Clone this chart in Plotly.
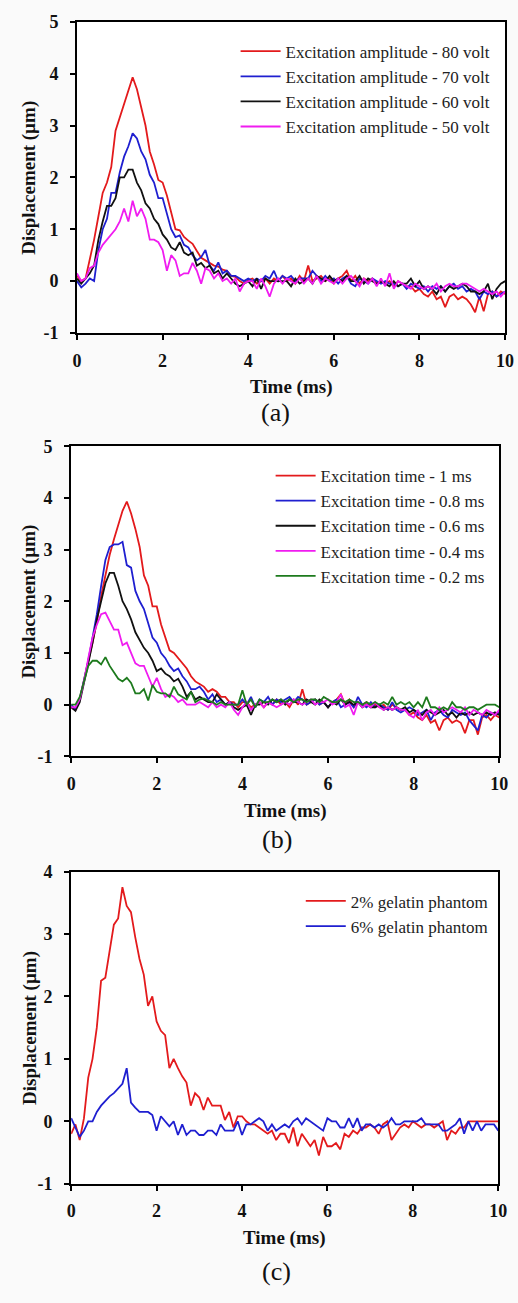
import plotly.graph_objects as go

W, H = 518, 1303
t = [round(0.1 * i, 1) for i in range(101)]

# ---------- panel (a): excitation amplitude ----------
a_names = ["Excitation amplitude - 80 volt", "Excitation amplitude - 70 volt",
           "Excitation amplitude - 60 volt", "Excitation amplitude - 50 volt"]
a_80 = [0.1, 0.0, 0.05, 0.4, 0.8, 1.25, 1.7, 1.9, 2.2, 2.9,
        3.15, 3.4, 3.65, 3.93, 3.7, 3.35, 3.0, 2.5, 2.25, 1.95,
        1.9, 1.65, 1.3, 1.0, 0.98, 0.85, 0.78, 0.72, 0.58, 0.45,
        0.4, 0.35, 0.3, 0.28, 0.22, 0.2, 0.1, 0.08, 0.0, -0.05,
        0.02, 0.05, -0.05, 0.0, 0.05, -0.05, 0.05, 0.0, 0.1, 0.0,
        0.05, -0.05, 0.1, 0.0, 0.3, 0.0, 0.05, 0.1, 0.0, 0.05,
        -0.05, 0.05, 0.1, 0.2, 0.0, 0.1, -0.05, 0.05, 0.0, 0.05,
        -0.05, 0.0, -0.05, 0.0, -0.1, 0.0, -0.05, -0.1, -0.1, -0.2,
        -0.15, -0.25, -0.3, -0.2, -0.35, -0.3, -0.5, -0.3, -0.25, -0.35,
        -0.3, -0.35, -0.45, -0.6, -0.3, -0.58, -0.25, -0.2, -0.3, -0.2, -0.25]
a_70 = [0.0, -0.12, -0.05, 0.05, 0.0, 0.6, 1.0, 1.2, 1.7, 1.7,
        2.1, 2.4, 2.6, 2.85, 2.75, 2.5, 2.35, 2.05, 1.9, 1.6,
        1.6, 1.3, 1.0, 0.85, 0.88, 0.7, 0.65, 0.5, 0.4, 0.46,
        0.6, 0.3, 0.2, 0.36, 0.15, 0.2, 0.1, 0.1, 0.05, 0.0,
        0.05, 0.0, 0.05, 0.0, 0.1, 0.05, 0.2, 0.0, 0.1, 0.05,
        0.1, 0.0, 0.05, 0.05, 0.05, 0.2, 0.1, 0.0, 0.1, 0.0,
        0.05, -0.05, 0.05, 0.1, -0.05, -0.1, 0.05, 0.0, -0.05, 0.05,
        0.0, -0.05, 0.0, -0.05, -0.05, -0.1, -0.05, -0.15, -0.05, -0.1,
        -0.15, -0.1, -0.2, -0.1, -0.15, -0.1, -0.2, -0.1, -0.05, -0.15,
        -0.1, -0.2, -0.15, -0.2, -0.35, -0.2, -0.25, -0.2, -0.3, -0.25, -0.2]
a_60 = [0.05, -0.05, 0.05, 0.15, 0.3, 0.8, 1.15, 1.45, 1.45, 1.6,
        2.0, 2.0, 2.15, 2.15, 1.9, 1.75, 1.5, 1.4, 1.2, 1.1,
        0.9, 0.8, 0.65, 0.6, 0.75, 0.55, 0.5, 0.55, 0.3, 0.35,
        0.25, 0.3, 0.15, 0.2, 0.05, 0.15, 0.05, -0.05, -0.1, -0.05,
        0.0, -0.1, 0.05, -0.15, 0.05, 0.0, 0.0, 0.0, 0.0, 0.0,
        -0.1, 0.05, -0.05, 0.0, 0.05, -0.05, 0.1, 0.05, 0.0, 0.1,
        0.0, 0.05, 0.0, 0.1, 0.0, 0.0, 0.1, -0.05, 0.05, 0.0,
        -0.05, 0.0, -0.05, -0.1, 0.0, -0.1, -0.05, -0.05, 0.05, -0.1,
        0.0, -0.15, -0.1, -0.15, -0.25, -0.1, -0.2, -0.1, -0.15, -0.1,
        -0.05, -0.1, -0.2, -0.2, -0.25, -0.2, -0.05, -0.35, -0.15, -0.05, 0.0]
a_50 = [0.15, 0.0, 0.05, 0.25, 0.3, 0.55, 0.7, 0.8, 0.9, 1.0,
        1.15, 1.4, 1.15, 1.55, 1.25, 1.4, 1.2, 0.8, 0.8, 0.75,
        0.6, 0.2, 0.5, 0.4, 0.1, 0.15, 0.15, 0.35, 0.2, -0.05,
        0.25, 0.2, 0.05, 0.15, 0.0, 0.05, -0.05, 0.05, -0.2, -0.05,
        0.0, 0.0, -0.15, 0.05, -0.1, -0.3, -0.05, 0.05, -0.05, 0.05,
        0.0, -0.05, 0.05, -0.05, 0.05, -0.05, 0.1, -0.05, 0.05, 0.0,
        -0.05, 0.05, -0.05, 0.05, 0.1, 0.0, -0.1, 0.05, -0.05, 0.05,
        -0.1, 0.05, -0.1, 0.15, -0.15, 0.0, -0.05, -0.1, -0.15, -0.05,
        -0.1, -0.15, -0.1, -0.15, -0.05, -0.2, -0.1, -0.05, -0.1, -0.1,
        -0.05, -0.05, -0.1, -0.15, -0.2, -0.15, -0.2, -0.25, -0.2, -0.3, -0.2]

# ---------- panel (b): excitation time ----------
b_names = ["Excitation time - 1 ms", "Excitation time - 0.8 ms", "Excitation time - 0.6 ms",
           "Excitation time - 0.4 ms", "Excitation time - 0.2 ms"]
b_10 = [-0.05, -0.1, 0.1, 0.5, 0.85, 1.2, 1.6, 2.1, 2.5, 2.9,
        3.2, 3.5, 3.75, 3.93, 3.7, 3.4, 3.05, 2.5, 2.3, 1.9,
        1.9, 1.55, 1.3, 1.05, 1.0, 0.9, 0.8, 0.7, 0.55, 0.45,
        0.4, 0.35, 0.25, 0.3, 0.25, 0.15, 0.15, 0.05, 0.05, -0.05,
        0.05, 0.05, -0.05, 0.0, 0.05, -0.05, 0.05, 0.0, 0.1, 0.0,
        0.05, -0.05, 0.1, 0.0, 0.3, 0.0, 0.05, 0.1, 0.0, 0.05,
        -0.05, 0.05, 0.1, 0.2, 0.0, 0.1, -0.05, 0.05, 0.0, 0.05,
        -0.05, 0.0, -0.05, 0.0, -0.1, 0.0, -0.05, -0.1, -0.1, -0.2,
        -0.15, -0.25, -0.3, -0.2, -0.35, -0.3, -0.5, -0.3, -0.25, -0.35,
        -0.3, -0.35, -0.55, -0.3, -0.3, -0.58, -0.25, -0.2, -0.3, -0.2, -0.25]
b_08 = [0.0, -0.1, 0.1, 0.45, 0.85, 1.3, 1.75, 2.3, 2.8, 3.05,
        3.1, 3.1, 3.15, 2.7, 2.65, 2.2, 2.0, 1.85, 1.55, 1.3,
        1.2, 1.0, 0.9, 0.75, 0.65, 0.7, 0.55, 0.45, 0.3, 0.3,
        0.35, 0.25, 0.1, 0.2, 0.05, 0.1, 0.0, 0.05, 0.0, 0.0,
        0.1, 0.0, 0.15, -0.05, 0.1, 0.05, 0.15, 0.0, 0.1, 0.05,
        0.1, 0.15, 0.05, 0.15, 0.1, 0.0, 0.05, 0.1, 0.0, 0.05,
        -0.05, 0.05, 0.1, -0.05, 0.0, 0.05, -0.05, 0.15, 0.0, -0.05,
        0.05, -0.05, 0.0, -0.05, -0.1, 0.05, -0.1, -0.15, -0.1, -0.05,
        -0.1, -0.2, -0.15, -0.1, -0.3, -0.15, -0.1, -0.2, -0.25, -0.1,
        -0.15, -0.2, -0.15, -0.3, -0.4, -0.5, -0.2, -0.25, -0.15, -0.2, -0.15]
b_06 = [-0.05, -0.12, 0.05, 0.4, 0.8, 1.2, 1.65, 2.0, 2.35, 2.55,
        2.55, 2.3, 2.0, 1.85, 1.65, 1.4, 1.25, 1.1, 1.0, 0.85,
        0.65, 0.7, 0.6, 0.55, 0.45, 0.5, 0.35, 0.15, 0.25, 0.1,
        0.15, 0.1, 0.05, 0.05, 0.2, 0.1, 0.0, 0.05, -0.05, -0.1,
        -0.05, 0.0, -0.2, 0.0, 0.0, 0.05, 0.0, 0.1, 0.05, 0.1,
        0.0, 0.1, 0.05, 0.05, 0.0, 0.1, 0.05, 0.0, 0.1, 0.05,
        -0.05, 0.05, 0.0, 0.1, 0.0, 0.05, 0.0, 0.05, -0.05, 0.0,
        -0.05, -0.05, 0.0, -0.1, -0.05, -0.1, -0.05, -0.1, -0.05, -0.15,
        -0.1, -0.15, -0.2, -0.1, -0.15, -0.2, -0.15, -0.1, -0.2, -0.15,
        -0.25, -0.15, -0.2, -0.15, -0.2, -0.15, -0.2, -0.15, -0.2, -0.15, -0.2]
b_04 = [-0.05, -0.05, 0.1, 0.45, 0.9, 1.3, 1.55, 1.75, 1.78, 1.6,
        1.45, 1.45, 1.15, 1.2, 1.0, 0.8, 0.75, 0.75, 0.55, 0.35,
        0.52, 0.3, 0.15, 0.2, 0.15, 0.05, 0.1, 0.0, 0.0, 0.0,
        0.05, 0.0, -0.05, 0.05, -0.05, 0.0, -0.05, 0.05, -0.1, -0.2,
        -0.05, 0.05, -0.1, 0.0, 0.05, -0.05, 0.05, 0.0, -0.05, 0.0,
        0.05, 0.0, 0.1, 0.05, 0.0, 0.05, 0.1, 0.0, 0.05, 0.05,
        0.1, 0.0, 0.05, 0.2, -0.05, 0.0, -0.2, 0.05, -0.05, 0.0,
        -0.05, 0.05, -0.05, -0.1, -0.05, -0.1, -0.05, -0.1, -0.1, -0.2,
        -0.25, -0.1, -0.3, -0.15, -0.1, -0.2, -0.05, -0.15, -0.1, -0.05,
        -0.1, -0.15, -0.05, -0.2, -0.1, -0.15, -0.2, -0.1, -0.15, -0.2, -0.1]
b_02 = [0.0, 0.0, 0.15, 0.45, 0.75, 0.85, 0.85, 0.78, 0.92, 0.75,
        0.62, 0.5, 0.45, 0.52, 0.42, 0.22, 0.22, 0.3, 0.08, 0.38,
        0.25, 0.22, 0.22, 0.15, 0.35, 0.2, 0.15, 0.1, 0.25, 0.05,
        0.1, 0.12, 0.08, 0.05, 0.0, 0.05, 0.0, 0.0, 0.0, 0.0,
        0.28, 0.0, 0.1, -0.05, 0.1, 0.05, 0.05, 0.1, 0.05, 0.1,
        0.05, 0.1, 0.05, 0.1, 0.1, 0.05, 0.1, 0.1, 0.05, 0.15,
        0.1, 0.05, 0.05, 0.1, 0.05, 0.1, 0.05, 0.05, 0.0, 0.05,
        0.0, 0.05, 0.0, 0.05, 0.0, 0.15, 0.0, 0.05, 0.0, 0.05,
        -0.05, 0.05, -0.05, 0.15, -0.05, -0.05, -0.1, -0.05, -0.1, 0.05,
        -0.05, -0.05, -0.1, -0.05, -0.05, -0.1, -0.05, 0.0, 0.0, 0.0, -0.05]

# ---------- panel (c): gelatin phantoms ----------
c_names = ["2% gelatin phantom", "6% gelatin phantom"]
c_2 = [-0.2, -0.05, -0.3, 0.05, 0.7, 1.0, 1.5, 2.25, 2.3, 2.7,
       3.15, 3.25, 3.75, 3.45, 3.35, 2.95, 2.6, 2.35, 1.85, 2.0,
       1.6, 1.45, 1.38, 0.85, 1.0, 0.85, 0.72, 0.62, 0.25, 0.45,
       0.38, 0.18, 0.38, 0.25, 0.25, 0.25, 0.02, 0.15, -0.1, 0.08,
       0.08, 0.0, -0.05, -0.05, -0.1, -0.15, -0.2, -0.15, -0.3, -0.2,
       -0.2, -0.35, -0.1, -0.4, -0.2, -0.3, -0.4, -0.3, -0.55, -0.25,
       -0.4, -0.4, -0.35, -0.45, -0.2, -0.25, -0.15, -0.2, -0.1, -0.1,
       -0.05, -0.1, -0.2, -0.05, 0.0, -0.3, -0.2, -0.1, -0.05, -0.1,
       0.0, -0.05, -0.1, -0.05, -0.05, -0.1, -0.05, 0.0, -0.3, -0.15,
       -0.2, -0.1, -0.1, 0.0, 0.0, 0.0, 0.0, 0.0, 0.0, 0.0, 0.0]
c_6 = [0.05, -0.1, -0.25, -0.15, 0.0, 0.0, 0.15, 0.25, 0.32, 0.4,
       0.45, 0.52, 0.6, 0.85, 0.3, 0.22, 0.15, 0.15, 0.15, 0.1,
       -0.15, 0.08, 0.0, -0.08, 0.0, -0.22, -0.05, -0.22, -0.15, -0.15,
       -0.22, -0.22, -0.15, -0.15, -0.22, -0.05, -0.15, -0.15, -0.15, 0.0,
       -0.22, -0.05, -0.05, 0.0, 0.05, 0.0, -0.15, -0.05, -0.15, -0.1,
       -0.05, -0.1, 0.0, 0.05, -0.05, 0.05, 0.0, -0.05, -0.1, -0.15,
       0.05, 0.0, 0.0, -0.1, -0.1, 0.05, -0.1, 0.05, -0.15, -0.05,
       -0.05, -0.1, -0.05, -0.1, -0.05, 0.05, -0.05, -0.05, 0.0, 0.0,
       0.0, 0.0, 0.05, -0.05, -0.05, -0.05, -0.05, -0.15, -0.15, -0.1,
       -0.05, 0.05, -0.2, 0.0, -0.15, 0.0, -0.15, -0.05, -0.05, -0.05, -0.15]

# tick labels (hyphen minus as in the original)
x_ticks = [0, 2, 4, 6, 8, 10]
y_ticks_ab = [-1, 0, 1, 2, 3, 4, 5]
y_ticks_c = [-1, 0, 1, 2, 3, 4]

RED, BLUE, BLACK, MAG, GREEN = "#e31a1c", "#1f1fd0", "#111111", "#f01cf0", "#1d7a1d"
SERIF = "Liberation Serif"

fig = go.Figure()

panels = [
    ("", "legend", [(a_names[0], a_80, RED), (a_names[1], a_70, BLUE),
                    (a_names[2], a_60, BLACK), (a_names[3], a_50, MAG)]),
    ("2", "legend2", [(b_names[0], b_10, RED), (b_names[1], b_08, BLUE),
                      (b_names[2], b_06, BLACK), (b_names[3], b_04, MAG),
                      (b_names[4], b_02, GREEN)]),
    ("3", "legend3", [(c_names[0], c_2, RED), (c_names[1], c_6, BLUE)]),
]
for s, lg, series in panels:
    for name, vals, col in series:
        fig.add_trace(go.Scatter(x=t, y=vals, mode="lines", name=name,
                                 line=dict(color=col, width=1.8),
                                 xaxis="x" + s, yaxis="y" + s, legend=lg))

def px_x(p):
    return p / W

def px_y(p):
    return 1 - p / H

# plot-area pixel boxes: (left, right, top, bottom)
boxes = [(74, 514, 12, 328), (68, 508, 443, 758), (68, 507, 875, 1192)]
yranges = [[-1, 5], [-1, 5], [-1, 4]]
yticks = [y_ticks_ab, y_ticks_ab, y_ticks_c]

axis_common = dict(showline=True, linecolor="black", linewidth=2, mirror=True,
                   ticks="outside", ticklen=5, tickwidth=1.5, tickcolor="black",
                   showgrid=False, zeroline=False,
                   tickfont=dict(family=SERIF, size=18, color="#111", weight="bold"))

layout = dict(width=W, height=H, margin=dict(l=0, r=0, t=0, b=0),
              paper_bgcolor="#fafafa", plot_bgcolor="white")
for i, (l, r, tp, b) in enumerate(boxes):
    sx = "" if i == 0 else str(i + 1)
    layout["xaxis" + sx] = dict(axis_common, domain=[px_x(l), px_x(r)], range=[0, 10],
                                tickvals=x_ticks, ticktext=[str(v) for v in x_ticks],
                                anchor="y" + sx, ticklabelstandoff=5)
    layout["yaxis" + sx] = dict(axis_common, domain=[px_y(b), px_y(tp)], range=yranges[i],
                                tickvals=yticks[i], ticktext=[str(v) for v in yticks[i]],
                                anchor="x" + sx, ticklabelstandoff=8)

leg_common = dict(font=dict(family=SERIF, size=17, color="#222"), bgcolor="rgba(0,0,0,0)",
                  xref="paper", yref="paper", xanchor="left", yanchor="top",
                  tracegroupgap=0, itemwidth=40)
layout["legend"] = dict(leg_common, x=px_x(237), y=px_y(24))
layout["legend2"] = dict(leg_common, x=px_x(273), y=px_y(455))
layout["legend3"] = dict(leg_common, x=px_x(304), y=px_y(887))
fig.update_layout(**layout)

ann = []
title_font = dict(family=SERIF, size=19, color="#111")
for i, (l, r, tp, b) in enumerate(boxes):
    ann.append(dict(text="<b>Time (ms)</b>", x=px_x((l + r) / 2), y=px_y(b + 55),
                    xref="paper", yref="paper", showarrow=False, font=title_font,
                    xanchor="center", yanchor="middle"))
    ann.append(dict(text="<b>Displacement (µm)</b>", x=px_x(25), y=px_y((tp + b) / 2),
                    xref="paper", yref="paper", showarrow=False, font=title_font,
                    textangle=-90, xanchor="center", yanchor="middle"))
labels = [("(a)", 278, 409), ("(b)", 280, 842), ("(c)", 279, 1281)]
for txt, x, y in labels:
    ann.append(dict(text=txt, x=px_x(x), y=px_y(y), xref="paper", yref="paper",
                    showarrow=False, font=dict(family=SERIF, size=26, color="#111"),
                    xanchor="center", yanchor="middle"))
fig.update_layout(annotations=ann)

fig.write_html("out.html")
